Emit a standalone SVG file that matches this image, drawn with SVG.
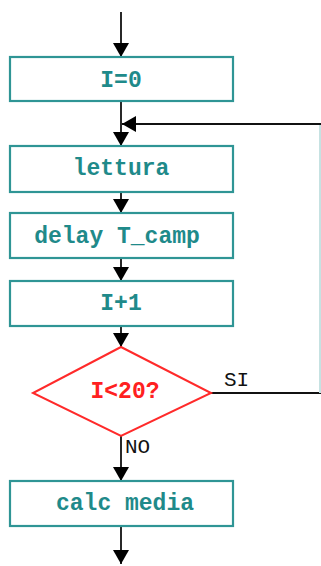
<svg xmlns="http://www.w3.org/2000/svg" width="321" height="566" viewBox="0 0 321 566">
<defs>
<style>
.box{fill:#fff;stroke:#2f9595;stroke-width:2.2}
.dia{fill:#fff;stroke:#ff2a2a;stroke-width:2}
.t{font-family:"Liberation Mono","Courier New",monospace;font-weight:bold;font-size:23px;fill:#1f8a8a;text-anchor:middle}
.td{font-family:"Liberation Mono","Courier New",monospace;font-weight:bold;font-size:23px;fill:#ff2020;text-anchor:middle}
.lbl{font-family:"Liberation Mono","Courier New",monospace;font-size:21px;fill:#111}
.ln{fill:none;stroke:#111;stroke-width:1.8}
</style>
<marker id="ah" viewBox="0 0 14 16" refX="14" refY="8" markerWidth="14" markerHeight="16" markerUnits="userSpaceOnUse" orient="auto">
<path d="M0,0 L14,8 L0,16 Z" fill="#000"/>
</marker>
</defs>
<g id="connectors">
<line class="ln" x1="121" y1="12" x2="121" y2="57" marker-end="url(#ah)"/>
<line class="ln" x1="121" y1="101" x2="121" y2="146" marker-end="url(#ah)"/>
<line class="ln" x1="121" y1="192" x2="121" y2="213" marker-end="url(#ah)"/>
<line class="ln" x1="121" y1="258" x2="121" y2="281" marker-end="url(#ah)"/>
<line class="ln" x1="121" y1="326" x2="121" y2="347" marker-end="url(#ah)"/>
<line class="ln" x1="121" y1="436" x2="121" y2="481" marker-end="url(#ah)"/>
<line class="ln" x1="121" y1="526" x2="121" y2="564" marker-end="url(#ah)"/>
<line class="ln" x1="211" y1="393" x2="321" y2="393"/>
<line x1="320" y1="124" x2="320" y2="393" stroke="#c6e2e2" stroke-width="2"/>
<line class="ln" x1="321" y1="124" x2="122" y2="124" marker-end="url(#ah)"/>
<text class="lbl" x="224" y="386">SI</text>
<text class="lbl" x="125" y="453">NO</text>
</g>
<g id="n1"><rect class="box" x="10" y="57" width="223" height="44"/><text class="t" x="121" y="87">I=0</text></g>
<g id="n2"><rect class="box" x="10" y="146" width="223" height="46"/><text class="t" x="121" y="175">lettura</text></g>
<g id="n3"><rect class="box" x="10" y="213" width="223" height="45"/><text class="t" x="117" y="243">delay T_camp</text></g>
<g id="n4"><rect class="box" x="10" y="281" width="223" height="45"/><text class="t" x="121" y="310">I+1</text></g>
<g id="n5"><polygon class="dia" points="121,347 211,393 121,436 33,393"/><text class="td" x="125" y="398">I&lt;20?</text></g>
<g id="n6"><rect class="box" x="10" y="481" width="223" height="45"/><text class="t" x="125" y="510">calc media</text></g>
</svg>
